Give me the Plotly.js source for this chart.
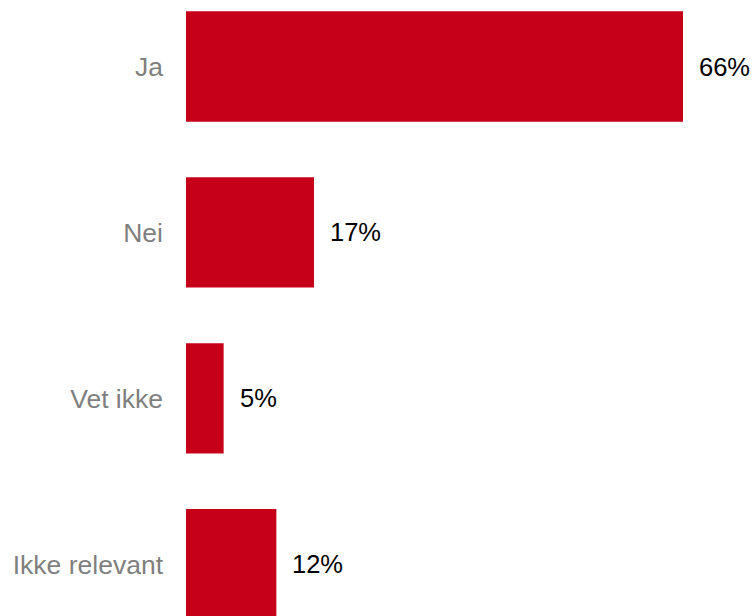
<!DOCTYPE html>
<html>
<head>
<meta charset="utf-8">
<script src="https://cdn.plot.ly/plotly-3.0.1.min.js"></script>
<style>html,body{margin:0;padding:0;background:#fff;}#chart{width:755px;height:616px;}</style>
</head>
<body>
<div id="chart"></div>
<script>
const categories = ["Ja", "Nei", "Vet ikke", "Ikke relevant"];
const values = [66, 17, 5, 12];
const valueLabels = ["66%", "17%", "5%", "12%"];

const barColor = "#C50018";
const font = "Arial, 'Liberation Sans', sans-serif";

const trace = {
  type: "bar",
  orientation: "h",
  x: values,
  y: categories,
  width: 0.665,
  marker: {color: barColor},
  hoverinfo: "none"
};

const annotations = values.map((v, i) => ({
  x: v, y: categories[i], xref: "x", yref: "y",
  text: valueLabels[i], showarrow: false,
  xanchor: "left", yanchor: "middle", xshift: 14,
  font: {family: font, size: 25.5, color: "#000000"}
}));

const layout = {
  width: 755, height: 616,
  margin: {l: 186, r: 0, t: 0, b: 0, pad: 0},
  paper_bgcolor: "#ffffff", plot_bgcolor: "#ffffff",
  showlegend: false,
  xaxis: {range: [0, 75.56], showgrid: false, zeroline: false, showline: false, showticklabels: false, ticks: ""},
  yaxis: {
    type: "category", categoryorder: "array", categoryarray: categories,
    range: [3.312, -0.401], showgrid: false, zeroline: false, showline: false,
    ticks: "", ticklabelstandoff: 22,
    tickfont: {family: font, size: 26.5, color: "#7F7F7F"}
  },
  annotations: annotations
};

Plotly.newPlot("chart", [trace], layout, {staticPlot: true, displayModeBar: false});
</script>
</body>
</html>
